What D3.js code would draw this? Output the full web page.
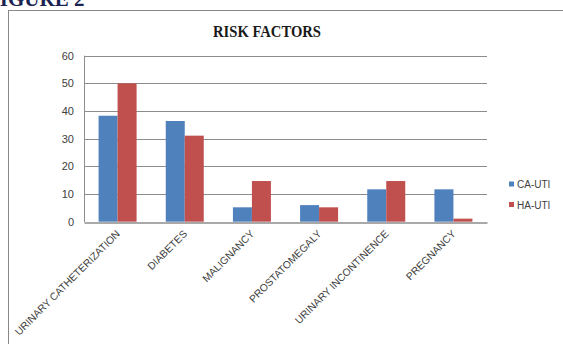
<!DOCTYPE html>
<head>
  <meta charset="utf-8">
  <style>
    body { margin: 0; background: #fff; }
    .axis text { fill: #404040; font-family: 'Liberation Sans', Arial, sans-serif; }
  </style>
</head>
<body>
  <script src="https://cdn.jsdelivr.net/npm/d3@7"></script>
  <script>
    // chart data
    const categories = ['URINARY CATHETERIZATION', 'DIABETES', 'MALIGNANCY', 'PROSTATOMEGALY', 'URINARY INCONTINENCE', 'PREGNANCY'];
    const seriesNames = ['CA-UTI', 'HA-UTI'];
    const caUti = [38.3, 36.4, 5.2, 6.0, 11.7, 11.7];
    const haUti = [50, 31.1, 14.7, 5.2, 14.7, 1.1];
    const yTicks = [0, 10, 20, 30, 40, 50, 60];
    const colors = ['#4f81bd', '#c0504d'];

    const width = 563, height = 344;
    const plot = {left: 84, right: 487, top: 55.7, bottom: 221.7};

    const svg = d3.select('body').append('svg')
      .attr('width', width).attr('height', height);

    // figure caption, cut by the top edge as in the source
    svg.append('text')
      .attr('x', -13).attr('y', 5.5)
      .attr('font-family', "'Liberation Serif', serif")
      .attr('font-weight', 'bold').attr('font-size', 21)
      .attr('fill', '#1b2352')
      .text('FIGURE 2');

    // chart frame
    svg.append('rect')
      .attr('x', 8.5).attr('y', 10.5)
      .attr('width', 600).attr('height', 400)
      .attr('fill', 'none').attr('stroke', '#888');

    svg.append('text')
      .attr('x', 213).attr('y', 36.5)
      .attr('textLength', 108).attr('lengthAdjust', 'spacingAndGlyphs')
      .attr('font-family', "'Liberation Serif', serif")
      .attr('font-weight', 'bold').attr('font-size', 16.5)
      .attr('fill', '#1a1a1a')
      .text('RISK FACTORS');

    const x0 = d3.scaleBand().domain(categories).range([plot.left, plot.right]);
    const x1 = d3.scaleBand().domain(seriesNames).range([0, 38]);
    const y = d3.scaleLinear().domain([0, 60]).range([plot.bottom, plot.top]);

    // gridlines
    svg.append('g').selectAll('line').data(yTicks.slice(1)).join('line')
      .attr('x1', plot.left).attr('x2', plot.right)
      .attr('y1', d => Math.round(y(d)) + 0.5).attr('y2', d => Math.round(y(d)) + 0.5)
      .attr('stroke', '#8c8c8c').attr('stroke-width', 1);

    // bars
    const series = [caUti, haUti];
    const groups = svg.append('g').selectAll('g').data(categories).join('g')
      .attr('transform', d => 'translate(' + (x0(d) + (x0.bandwidth() - 38) / 2) + ',0)');
    groups.selectAll('rect')
      .data((d, i) => seriesNames.map((s, j) => ({s: s, v: series[j][i], j: j})))
      .join('rect')
      .attr('x', d => x1(d.s)).attr('width', x1.bandwidth())
      .attr('y', d => y(d.v)).attr('height', d => y(0) - y(d.v))
      .attr('fill', d => colors[d.j]);

    // y axis
    const yAxis = d3.axisLeft(y).tickValues(yTicks).tickSize(0).tickPadding(10);
    const gy = svg.append('g').attr('class', 'axis')
      .attr('transform', 'translate(' + plot.left + ',0)')
      .call(yAxis);
    gy.select('.domain').attr('stroke', '#8c8c8c').attr('d', 'M0.5,' + plot.top + 'V' + (plot.bottom + 0.5));
    gy.selectAll('text').attr('font-size', 11);

    // x axis
    const xAxis = d3.axisBottom(x0).tickSize(0).tickPadding(0);
    const gx = svg.append('g').attr('class', 'axis')
      .attr('transform', 'translate(0,' + (Math.round(plot.bottom) + 0.5) + ')')
      .call(xAxis);
    gx.select('.domain').attr('stroke', '#8c8c8c').attr('stroke-width', 1.5);
    gx.selectAll('text')
      .attr('font-size', 10.3)
      .attr('text-anchor', 'end')
      .attr('dy', 0)
      .attr('transform', 'translate(3,12) rotate(-45)');

    // legend
    const legend = svg.append('g').selectAll('g').data(seriesNames).join('g')
      .attr('transform', (d, i) => 'translate(509,' + (181.5 + i * 20.5) + ')');
    legend.append('rect').attr('width', 5).attr('height', 5)
      .attr('fill', (d, i) => colors[i]);
    legend.append('text').attr('x', 8).attr('y', 6.5)
      .attr('font-family', "'Liberation Sans', Arial, sans-serif")
      .attr('font-size', 10).attr('fill', '#404040')
      .text(d => d);
  </script>
</body>
